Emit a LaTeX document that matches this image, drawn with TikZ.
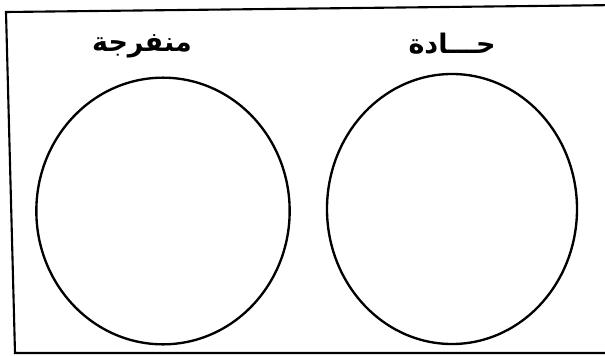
\documentclass[tikz,border=0pt]{standalone}
\usepackage{fontspec}
\newfontfamily\arabicfont[Script=Arabic]{DejaVu Sans}
\TeXXeTstate=1
\usetikzlibrary{shapes.geometric}

\begin{document}
\begin{tikzpicture}[x=0.03cm,y=-0.03cm,
  setoval/.style={draw,ellipse,line width=2pt,inner sep=0pt},
  settitle/.style={font=\arabicfont\bfseries\fontsize{23}{27}\selectfont}]
  \useasboundingbox (0,0) rectangle (605,355);
  \clip (0,0) rectangle (605,355);
  % Frame
  \draw[line width=1.8pt] (620,5) -- (6,12) -- (15,353) -- (620,353);
  % Sets
  \node[setoval,minimum width=7.6cm,minimum height=8.0cm] (obtuse) at (163,211) {};
  \node[setoval,minimum width=7.5cm,minimum height=8.1cm] (acute) at (452,209) {};
  % Titles
  \node[settitle] (obtuselbl) at (142,46) {\beginR منفرجة\endR};
  \node[settitle] (acutelbl) at (452,44) {\beginR حـــادة\endR};
\end{tikzpicture}
\end{document}
